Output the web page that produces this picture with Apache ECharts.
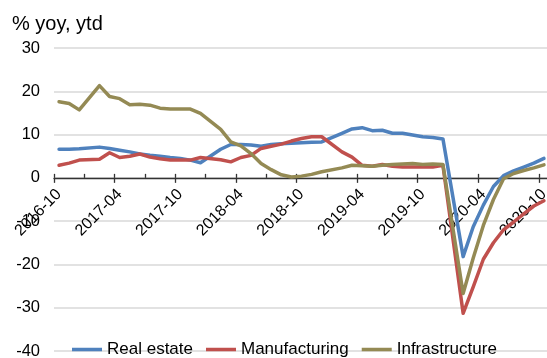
<!DOCTYPE html>
<html>
<head>
<meta charset="utf-8">
<script src="https://cdn.jsdelivr.net/npm/echarts@6/dist/echarts.min.js"></script>
<style>
  html, body { margin: 0; padding: 0; background: #fff; }
  #chart { width: 547px; height: 358px; }
</style>
</head>
<body>
<div id="chart"></div>
<script>
// monthly ytd, Jan has no reading (Jan-Feb reported together)
var months = [
    '2016-10', '2016-11', '2016-12',
    '2017-01', '2017-02', '2017-03', '2017-04', '2017-05', '2017-06', '2017-07', '2017-08', '2017-09', '2017-10', '2017-11', '2017-12',
    '2018-01', '2018-02', '2018-03', '2018-04', '2018-05', '2018-06', '2018-07', '2018-08', '2018-09', '2018-10', '2018-11', '2018-12',
    '2019-01', '2019-02', '2019-03', '2019-04', '2019-05', '2019-06', '2019-07', '2019-08', '2019-09', '2019-10', '2019-11', '2019-12',
    '2020-01', '2020-02', '2020-03', '2020-04', '2020-05', '2020-06', '2020-07', '2020-08', '2020-09', '2020-10'
];

var realEstate = [
    6.6, 6.6, 6.7,
    null, 7.1, 6.8, 6.4, 6.0, 5.5, 5.2, 5.0, 4.7, 4.5, 4.1, 3.5,
    null, 6.6, 7.7, 7.7, 7.6, 7.3, 7.7, 7.9, 8.0, 8.1, 8.2, 8.3,
    null, 10.3, 11.3, 11.6, 10.9, 11.0, 10.3, 10.3, 9.9, 9.5, 9.3, 9.0,
    null, -18.2, -11.3, -6.3, -2.0, 0.5, 1.6, 2.5, 3.4, 4.5
];

var manufacturing = [
    2.9, 3.4, 4.1,
    null, 4.3, 5.8, 4.7, 5.0, 5.5, 4.8, 4.4, 4.1, 4.1, 4.1, 4.7,
    null, 4.2, 3.7, 4.7, 5.2, 6.8, 7.3, 7.8, 8.5, 9.1, 9.5, 9.5,
    null, 6.0, 4.8, 2.9, 2.7, 3.1, 2.7, 2.5, 2.5, 2.5, 2.5, 2.9,
    null, -31.3, -25.2, -18.8, -15.0, -12.0, -10.2, -8.3, -6.5, -5.3
];

var infrastructure = [
    17.6, 17.2, 15.7,
    null, 21.3, 18.8, 18.3, 16.9, 17.0, 16.8, 16.1, 15.9, 15.9, 15.9, 14.9,
    null, 11.2, 8.3, 7.4, 5.6, 3.3, 1.9, 0.7, 0.2, 0.4, 0.8, 1.4,
    null, 2.3, 2.9, 2.8, 2.7, 2.9, 3.1, 3.2, 3.3, 3.1, 3.2, 3.1,
    null, -26.7, -18.5, -11.0, -5.0, -0.2, 1.0, 1.7, 2.3, 3.0
];

var yTicks = { min: -40, max: 30, step: 10 };
var seriesNames = ['Real estate', 'Manufacturing', 'Infrastructure'];
var seriesColors = ['#4F81BD', '#C0504D', '#948A54'];

var font = 'Liberation Sans, Arial, sans-serif';
var gridBox = { left: 54, top: 48, width: 495, height: 303 };
// lift the category axis from the grid bottom up to the zero line
var zeroLift = -gridBox.height * (0 - yTicks.min) / (yTicks.max - yTicks.min);

var chart = echarts.init(document.getElementById('chart'), null, { renderer: 'canvas' });

var lineSeries = function (name, data, color) {
    return {
        name: name,
        type: 'line',
        data: data,
        connectNulls: true,
        symbol: 'none',
        smooth: false,
        lineStyle: { color: color, width: 3.5, join: 'round', cap: 'round' },
        itemStyle: { color: color }
    };
};

chart.setOption({
    animation: false,
    backgroundColor: '#fff',
    title: {
        text: '% yoy, ytd',
        left: 12,
        top: 14,
        padding: 0,
        textStyle: { fontFamily: font, fontSize: 20, fontWeight: 'normal', color: '#000' }
    },
    legend: {
        data: seriesNames,
        left: 72,
        top: 341,
        padding: 0,
        itemGap: 13,
        icon: 'rect',
        itemWidth: 30,
        itemHeight: 3.5,
        textStyle: { fontFamily: font, fontSize: 17, color: '#000' }
    },
    grid: {
        left: gridBox.left,
        top: gridBox.top,
        width: gridBox.width,
        height: gridBox.height,
        containLabel: false,
        outerBoundsMode: 'none'
    },
    xAxis: [{
        type: 'category',
        data: months,
        position: 'bottom',
        offset: zeroLift,
        boundaryGap: true,
        axisLine: { show: true, onZero: false, lineStyle: { color: '#333', width: 1.3 } },
        axisTick: { show: true, inside: true, length: 4, interval: 2, lineStyle: { color: '#333', width: 1.3 } },
        axisLabel: {
            show: true,
            interval: 5,
            rotate: 45,
            margin: 14,
            fontFamily: font,
            fontSize: 16,
            color: '#000'
        },
        splitLine: { show: false }
    }, {
        // lower half of the half-year ticks
        type: 'category',
        data: months,
        position: 'bottom',
        offset: zeroLift,
        boundaryGap: true,
        axisLine: { show: false, onZero: false },
        axisTick: { show: true, inside: false, length: 5, interval: 5, lineStyle: { color: '#333', width: 1.3 } },
        axisLabel: { show: false },
        splitLine: { show: false }
    }],
    yAxis: {
        type: 'value',
        min: yTicks.min,
        max: yTicks.max,
        interval: yTicks.step,
        axisLine: { show: false },
        axisTick: { show: false },
        axisLabel: { margin: 14, fontFamily: font, fontSize: 16.5, color: '#000' },
        splitLine: { lineStyle: { color: '#d9d9d9', width: 1.5 } }
    },
    series: [
        lineSeries(seriesNames[0], realEstate, seriesColors[0]),
        lineSeries(seriesNames[1], manufacturing, seriesColors[1]),
        lineSeries(seriesNames[2], infrastructure, seriesColors[2])
    ]
});
</script>
</body>
</html>
